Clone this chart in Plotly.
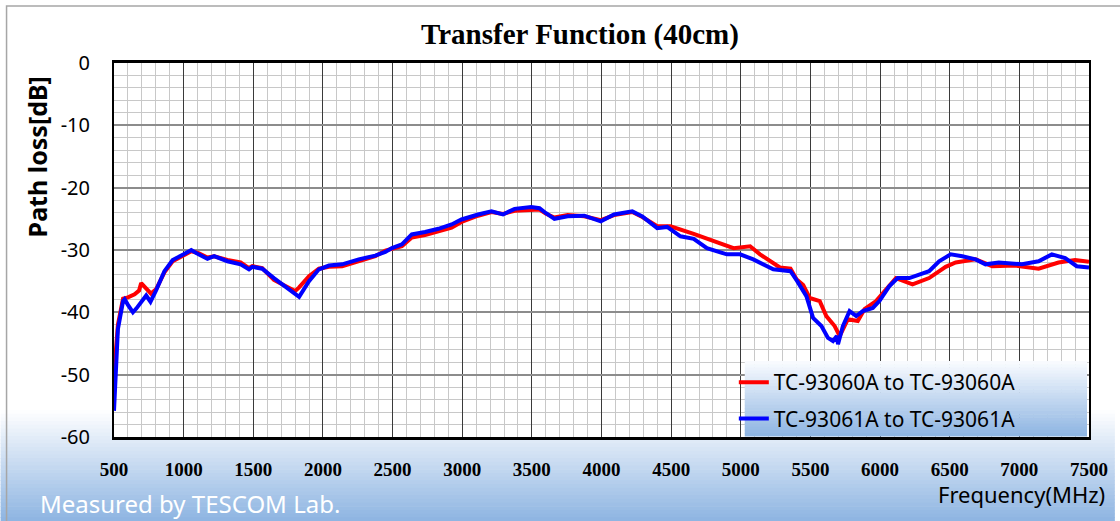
import plotly.graph_objects as go

# Frequency (MHz) and path loss (dB)
freq_red = [500, 528, 565, 600, 648, 680, 695, 715, 731, 766, 802, 862, 921, 1000, 1055,
            1107, 1171, 1219, 1314, 1409, 1469, 1493, 1564, 1648, 1743, 1800, 1829, 1900,
            1971, 2043, 2138, 2257, 2376, 2448, 2495, 2567, 2638, 2733, 2829, 2924, 2995,
            3114, 3210, 3293, 3376, 3495, 3555, 3602, 3662, 3757, 3876, 3995, 4090, 4221,
            4293, 4400, 4495, 4662, 4805, 4948, 5067, 5138, 5281, 5357, 5400, 5448, 5495,
            5567, 5614, 5674, 5710, 5769, 5840, 5888, 5971, 6043, 6114, 6233, 6352, 6471,
            6543, 6686, 6805, 6971, 7138, 7281, 7400, 7500]
loss_red = [-50.0, -42.0, -37.8, -37.6, -37.1, -36.5, -35.3, -35.8, -36.3, -37.0, -36.3,
            -33.6, -31.8, -30.8, -30.2, -30.5, -31.2, -31.0, -31.6, -32.0, -32.9, -32.6,
            -32.9, -34.8, -36.0, -36.6, -36.0, -34.2, -33.0, -32.7, -32.6, -31.8, -31.0,
            -30.1, -29.8, -29.4, -28.0, -27.6, -27.0, -26.4, -25.5, -24.5, -23.9, -24.2,
            -23.7, -23.6, -23.5, -24.2, -24.8, -24.4, -24.6, -25.2, -24.4, -23.9, -24.7,
            -26.2, -26.2, -27.4, -28.6, -29.7, -29.4, -30.7, -32.8, -33.0, -34.7, -35.6,
            -37.7, -38.2, -40.6, -42.2, -43.8, -41.1, -41.4, -39.5, -38.2, -36.3, -34.5,
            -35.5, -34.5, -32.7, -32.0, -31.5, -32.6, -32.5, -33.0, -32.0, -31.6, -31.9]

freq_blue = [500, 528, 565, 576, 600, 636, 660, 683, 731, 762, 802, 862, 921, 1000, 1055,
             1107, 1171, 1219, 1314, 1409, 1469, 1493, 1564, 1648, 1743, 1790, 1829, 1900,
             1971, 2043, 2138, 2257, 2376, 2448, 2495, 2567, 2638, 2733, 2829, 2924, 2995,
             3114, 3210, 3293, 3376, 3495, 3555, 3602, 3662, 3757, 3876, 3995, 4090, 4221,
             4293, 4400, 4471, 4567, 4662, 4757, 4900, 4995, 5090, 5233, 5357, 5405, 5471,
             5519, 5579, 5626, 5662, 5690, 5698, 5733, 5781, 5829, 5876, 5948, 5995, 6067,
             6126, 6210, 6281, 6352, 6424, 6507, 6590, 6686, 6757, 6852, 7019, 7138, 7233,
             7329, 7412, 7500]
loss_blue = [-55.8, -42.7, -38.2, -37.9, -38.8, -40.0, -39.4, -38.7, -37.3, -38.3, -36.5,
             -33.4, -31.6, -30.7, -30.0, -30.7, -31.4, -31.0, -31.8, -32.3, -33.1, -32.7,
             -33.0, -34.5, -36.1, -37.0, -37.5, -35.0, -33.1, -32.5, -32.3, -31.5, -30.9,
             -30.3, -29.7, -29.1, -27.5, -27.1, -26.6, -25.9, -25.1, -24.3, -23.8, -24.3,
             -23.4, -23.1, -23.3, -24.1, -25.0, -24.6, -24.5, -25.4, -24.3, -23.8, -24.6,
             -26.5, -26.3, -27.8, -28.2, -29.7, -30.7, -30.7, -31.5, -33.1, -33.4, -35.0,
             -37.4, -40.9, -42.2, -44.1, -44.6, -43.8, -45.1, -42.2, -39.8, -40.6, -39.8,
             -39.3, -38.2, -35.8, -34.5, -34.5, -33.9, -33.4, -31.8, -30.7, -31.0, -31.5,
             -32.3, -32.0, -32.3, -31.8, -30.7, -31.3, -32.6, -32.8]

series_names = ["TC-93060A to TC-93060A", "TC-93061A to TC-93061A"]
x_ticks = list(range(500, 8000, 500))
y_ticks = list(range(-60, 10, 10))
y_ticktext = [str(v) for v in y_ticks]   # plain hyphen minus, as in the original

W, H = 1120, 521
L, R, T, B = 114, 26, 63, 84
PW, PH = W - L - R, H - T - B


def px(x):
    return (x - L) / PW


def py(y):
    return (H - B - y) / PH


def lerp(c0, c1, t):
    return "rgb(%d,%d,%d)" % tuple(round(a + (b - a) * t) for a, b in zip(c0, c1))


fig = go.Figure()

fig.add_trace(go.Scatter(x=freq_red, y=loss_red, mode="lines", name=series_names[0],
                         legendgroup="a", line=dict(color="#ff0000", width=4)))
fig.add_trace(go.Scatter(x=freq_blue, y=loss_blue, mode="lines", name=series_names[1],
                         legendgroup="b", line=dict(color="#0000ff", width=4)))

shapes = []
# page background gradient at the bottom
white, blue = (255, 255, 255), (141, 180, 226)
n = 30
g0, g1 = 410, H
for i in range(n):
    y0 = g0 + (g1 - g0) * i / n
    y1 = g0 + (g1 - g0) * (i + 1) / n + 0.6
    shapes.append(dict(type="rect", xref="paper", yref="paper", layer="below",
                       x0=px(0), x1=px(W), y0=py(y1), y1=py(y0),
                       fillcolor=lerp(white, blue, (i + 0.5) / n), line=dict(width=0)))
# keep the plot area itself white
shapes.append(dict(type="rect", xref="paper", yref="paper", layer="below",
                   x0=0, x1=1, y0=0, y1=1, fillcolor="white", line=dict(width=0)))
# outer frame
shapes.append(dict(type="rect", xref="paper", yref="paper", layer="below",
                   x0=px(6), x1=px(W + 10), y0=py(H + 10), y1=py(6),
                   line=dict(color="#a6a6a6", width=1.5)))
# legend box gradient
lx0, lx1, ly0, ly1 = 748, 1092, 361, 436
m = 24
for i in range(m):
    y0 = ly0 + (ly1 - ly0) * i / m
    y1 = ly0 + (ly1 - ly0) * (i + 1) / m + 0.6
    shapes.append(dict(type="rect", xref="paper", yref="paper", layer="above",
                       x0=px(lx0), x1=px(lx1), y0=py(y1), y1=py(y0),
                       fillcolor=lerp((250, 252, 255), (141, 180, 226), (i + 0.5) / m),
                       line=dict(width=0)))

fig.update_layout(
    width=W, height=H, autosize=False,
    margin=dict(l=L, r=R, t=T, b=B),
    paper_bgcolor="white", plot_bgcolor="white",
    title=dict(text="<b>Transfer Function (40cm)</b>", xref="container", x=580 / W,
               xanchor="center", yref="container", y=1 - 34 / H, yanchor="middle",
               font=dict(family="Liberation Serif", size=29, color="black")),
    shapes=shapes,
    showlegend=True,
    legend=dict(x=px(737), xanchor="left", y=py(ly0 + 1), yanchor="top",
                bgcolor="rgba(0,0,0,0)", borderwidth=0,
                font=dict(family="Noto Sans", size=21, color="black"),
                traceorder="grouped", tracegroupgap=6, itemwidth=30),
    annotations=[
        dict(text="<b>Path loss[dB]</b>", xref="paper", yref="paper", x=px(37), y=py(157),
             xanchor="center", yanchor="middle", textangle=-90, showarrow=False,
             font=dict(family="Noto Sans", size=25, color="black")),
        dict(text="Frequency(MHz)", xref="paper", yref="paper", x=px(1112), y=py(494),
             xanchor="right", yanchor="middle", showarrow=False,
             font=dict(family="Noto Sans", size=22, color="black")),
        dict(text="Measured by TESCOM Lab.", xref="paper", yref="paper", x=px(38), y=py(503),
             xanchor="left", yanchor="middle", showarrow=False,
             font=dict(family="Noto Sans", size=24, color="white")),
    ],
)

fig.update_xaxes(
    range=[500, 7500], tickvals=x_ticks, ticks="", ticklabelstandoff=13,
    tickfont=dict(family="Liberation Serif", size=19, color="black", weight="bold"),
    showgrid=True, gridcolor="#3a3a3a", gridwidth=1,
    minor=dict(dtick=100, showgrid=True, gridcolor="#c8c8c8", gridwidth=1),
    showline=True, linecolor="black", linewidth=3, mirror=True, zeroline=False,
)
fig.update_yaxes(
    range=[-60, 0], tickvals=y_ticks, ticktext=y_ticktext, ticks="", ticklabelstandoff=18,
    tickfont=dict(family="Noto Sans", size=20, color="black"),
    showgrid=True, gridcolor="#8c8c8c", gridwidth=1.5,
    minor=dict(dtick=2, showgrid=True, gridcolor="#c8c8c8", gridwidth=1),
    showline=True, linecolor="black", linewidth=2, mirror=True, zeroline=False,
)

fig.write_html("out.html", config={"displayModeBar": False},
               post_script="document.body.style.margin='0';")
